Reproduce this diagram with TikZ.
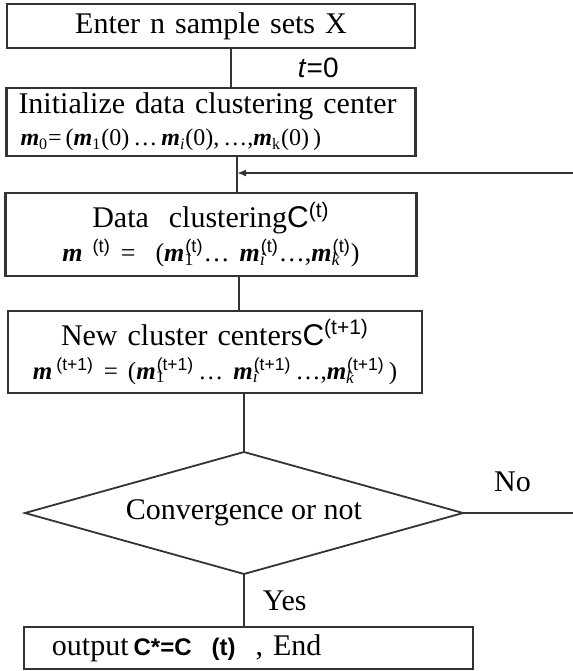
\documentclass[tikz,border=0pt]{standalone}
\usepackage{fontspec}
\setmainfont{Liberation Serif}
\setsansfont{Liberation Sans}
\usetikzlibrary{positioning,arrows.meta,shapes.geometric}

% centre m with a stacked index and superscript
\newcommand{\mvec}[2]{\textbf{\textit{m}}\textsubscript{\rlap{#1}}\textsuperscript{\textsf{#2}}}

\begin{document}
\begin{tikzpicture}[
  font=\fontsize{15}{17}\selectfont,
  box/.style={draw=black!80, line width=1.1pt, align=center,
              inner xsep=6pt, inner ysep=2pt, outer sep=0pt},
  cond/.style={draw=black!80, line width=0.9pt, diamond, aspect=3.6,
               inner sep=0pt, outer sep=0pt,
               minimum width=219pt, minimum height=61pt},
  line/.style={draw=black!80, line width=0.9pt},
  arr/.style={line, -{Latex[length=4.5pt,width=3.5pt]}},
  lbl/.style={inner sep=1pt}
]
\useasboundingbox (0,0) rectangle (286.5pt,-335.5pt);
\coordinate (rim) at (286.5pt,0);

\node[box, text width=192pt, minimum height=22pt] (input) at (105.5pt,-13pt)
  {Enter n sample sets X};
\node[box, text width=192.5pt, minimum height=34pt, align=left,
      below=20pt of input] (init)
  {Initialize data clustering center\\[-1pt]
   {\fontsize{12}{14}\selectfont\hspace*{1pt}\textbf{\textit{m}}\textsubscript{0}=\,(\textbf{\textit{m}}\textsubscript{1}(0)\,\dots\,\textbf{\textit{m}}\textsubscript{\textit{i}}(0),\,\dots,\textbf{\textit{m}}\textsubscript{k}(0)\,)}};
\node[box, text width=193.5pt, minimum height=41.5pt, below=18.5pt of init] (clus)
  {Data~ clustering\textsf{C}\textsuperscript{\textsf{(t)}}\\
   {\fontsize{13}{15}\selectfont\textbf{\textit{m}}~\textsuperscript{\textsf{(t)}} =~ (\mvec{1}{(t)}\dots\ \mvec{\textit{i}}{(t)}\dots,\mvec{\textit{k}}{(t)})}};
\node[box, text width=195pt, minimum height=41pt, below=17.5pt of clus,
      xshift=2pt] (upd)
  {New cluster centers\textsf{C}\textsuperscript{\textsf{(t+1)}}\\
   {\fontsize{12.5}{15}\selectfont\textbf{\textit{m}}\,\textsuperscript{\textsf{(t+1)}} = (\mvec{1}{(t+1)}\,\dots\ \mvec{\textit{i}}{(t+1)}\,\dots,\mvec{\textit{k}}{(t+1)}\,)}};
\node[cond, below=29.5pt of upd, xshift=14.5pt] (conv) {Convergence or not};
\node[box, text width=196.5pt, inner xsep=14pt, minimum height=21pt, align=left,
      below=26.5pt of conv, xshift=2.25pt] (out)
  {output\,{\fontsize{12}{14}\selectfont\sffamily\bfseries C*=C\ \ (t)}\ \ , End};

% main spine
\draw[line] ([xshift=10pt]input.south) -- ([xshift=10pt]input.south |- init.north)
  node[lbl, midway, right=32pt, font=\fontsize{14}{16}\selectfont\sffamily] {\textit{t}=0};
\draw[line] ([xshift=13pt]init.south) -- coordinate[pos=0.46] (join)
  ([xshift=13pt]init.south |- clus.north);
\draw[line] ([xshift=14pt]clus.south) -- ([xshift=14pt]clus.south |- upd.north);
\draw[line] (upd.south -| conv.north) -- (conv.north);
\draw[line] (conv.south) -- (conv.south |- out.north)
  node[lbl, midway, right=8pt] {Yes};

% loop back when not converged
\draw[line] (conv.east) -- (conv.east -| rim)
  node[lbl, pos=0.45, above=9pt] {No};
\draw[arr] (join -| rim) -- (join);
\end{tikzpicture}
\end{document}
